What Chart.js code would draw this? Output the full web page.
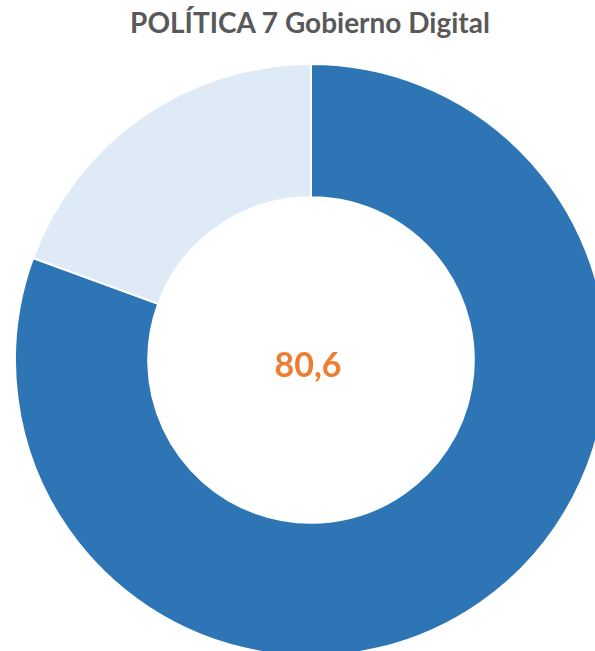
<!DOCTYPE html>
<html>
<head>
<meta charset="utf-8">
<script src="https://cdn.jsdelivr.net/npm/chart.js@4"></script>
<style>
    html, body { margin: 0; padding: 0; background: #fff; overflow: hidden; width: 595px; height: 651px; }
    #title {
        position: absolute; left: 0; top: 5px; width: 620px; text-align: center;
        font-family: Lato, sans-serif; font-weight: bold; font-size: 28px; color: #595959;
    }
    #wrap { position: absolute; left: 14px; top: 63px; width: 594px; height: 594px; }
</style>
</head>
<body>
<div id="title">POLÍTICA 7 Gobierno Digital</div>
<div id="wrap"><canvas id="chart" width="594" height="594"></canvas></div>
<script>
const labels = ['Gobierno Digital', 'Restante'];
const values = [80.6, 19.4];
const colors = ['#2E75B6', '#DEEBF7'];
const centerLabel = '80,6';

// Draw the score in the middle of the ring
const centerText = {
    id: 'centerText',
    afterDraw(chart) {
        const arc = chart.getDatasetMeta(0).data[0];
        const ctx = chart.ctx;
        ctx.save();
        ctx.font = 'bold 34px Lato, sans-serif';
        ctx.fillStyle = '#ED7D31';
        ctx.textAlign = 'center';
        ctx.textBaseline = 'middle';
        ctx.fillText(centerLabel, arc.x - 3, arc.y + 6);
        ctx.restore();
    }
};

new Chart(document.getElementById('chart'), {
    type: 'doughnut',
    data: {
        labels: labels,
        datasets: [{
            data: values,
            backgroundColor: colors,
            borderColor: '#ffffff',
            borderWidth: 2
        }]
    },
    options: {
        responsive: false,
        animation: false,
        cutout: '55%',
        layout: { padding: 0 },
        plugins: {
            legend: { display: false },
            tooltip: { enabled: false }
        }
    },
    plugins: [centerText]
});
</script>
</body>
</html>
